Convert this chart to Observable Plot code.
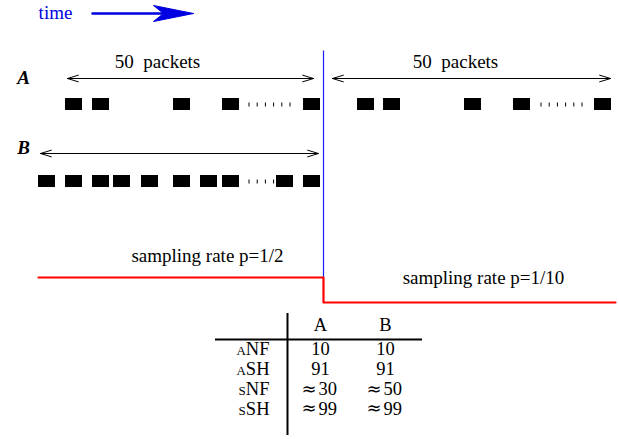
<!DOCTYPE html>
<html><head><meta charset="utf-8">
<script src="https://cdn.jsdelivr.net/npm/d3@7"></script>
<script src="https://cdn.jsdelivr.net/npm/@observablehq/plot@0.6"></script>
<style>body{margin:0;background:#fff}</style>
</head><body><div id="chart"></div>
<script>
// ---- data (diagram coordinates, in "time" units along x) ----
const timeLabel = "time";
const flowNames = ["A", "B"];
const windowLabel = "50  packets";
const packetsA = [65, 92, 173, 222, 303, 357, 383, 464, 513, 594];
const packetsB = [38, 65, 92, 113, 141, 173, 200, 222, 276, 303];
const packetLen = 17;
const gapsA = [[244, 294], [536, 586]];
const gapsB = [[244, 274]];
const windowsA = [[67, 313], [332, 610]];
const windowsB = [[40, 318]];
const switchTime = 323;
const rateLabels = ["sampling rate p=1/2", "sampling rate p=1/10"];
const rateLevels = [277, 302];
const rateSpan = [38, 615];
const tableCols = ["A", "B"];
const tableRows = ["aNF", "aSH", "sNF", "sSH"];
const valuesA = ["10", "91", "≈30", "≈99"];
const valuesB = ["10", "91", "≈50", "≈99"];

// ---- layout rows ----
const yA = 104, yB = 181, pktH = 12;
const yArrowA = 78, yArrowB = 153;

const packets = [
  ...packetsA.map(t => ({t, y: yA})),
  ...packetsB.map(t => ({t, y: yB}))
];
const gaps = [
  ...gapsA.map(([a, b]) => ({a, b, y: yA})),
  ...gapsB.map(([a, b]) => ({a, b, y: yB}))
];
const spans = [
  ...windowsA.map(([a, b]) => ({a, b, y: yArrowA})),
  ...windowsB.map(([a, b]) => ({a, b, y: yArrowB}))
];
const arrowHalves = spans.flatMap(s => {
  const m = (s.a + s.b) / 2;
  return [{x1: m, x2: s.a, y: s.y}, {x1: m, x2: s.b, y: s.y}];
});
const ratePath = [
  {x: rateSpan[0], y: rateLevels[0]},
  {x: switchTime, y: rateLevels[0]},
  {x: switchTime, y: rateLevels[1]},
  {x: rateSpan[1], y: rateLevels[1]}
];
const timeHead = [
  {x: 193, y: 13}, {x: 153, y: 5}, {x: 163, y: 13}, {x: 153, y: 21}, {x: 193, y: 13}
];
const colX = [320, 385];
const rowY0 = 349, rowStep = 19.7;
const cells = tableRows.flatMap((r, i) => [valuesA[i], valuesB[i]].map((v, j) => {
  const approx = v.startsWith("≈");
  return {x: colX[j], y: rowY0 + i * rowStep, approx, num: approx ? v.slice(1) : v};
}));

const serif = "'Liberation Serif', 'Times New Roman', serif";
const plot = Plot.plot({
  width: 619, height: 439, margin: 0,
  x: {domain: [0, 619], range: [0, 619], axis: null},
  y: {domain: [0, 439], range: [0, 439], axis: null},
  style: {fontFamily: serif, background: "white", overflow: "visible"},
  marks: [
    // time arrow
    Plot.text([timeLabel], {x: 55, y: 12, text: d => d, fill: "#0000e0", fontSize: 19, fontFamily: serif}),
    Plot.line([{x: 92, y: 13}, {x: 165, y: 13}], {x: "x", y: "y", stroke: "#0000e0", strokeWidth: 2.5}),
    Plot.line(timeHead, {x: "x", y: "y", fill: "#0000e0", stroke: "#0000e0", strokeWidth: 1}),
    // flow labels
    Plot.text(flowNames, {x: 23, y: [77, 147], text: d => d, fontSize: 19, fontWeight: "bold", fontStyle: "italic", fontFamily: serif}),
    // window labels
    Plot.text([windowLabel, windowLabel], {x: [157, 455], y: [61, 61], text: d => d, fontSize: 19, fontFamily: serif}),
    // double arrows
    Plot.arrow(arrowHalves, {x1: "x1", x2: "x2", y1: "y", y2: "y", stroke: "black", strokeWidth: 1, headLength: 17, headAngle: 34, insetEnd: 0}),
    // packets
    Plot.rect(packets, {x1: "t", x2: d => d.t + packetLen, y1: d => d.y - pktH / 2, y2: d => d.y + pktH / 2, fill: "black"}),
    // dotted gaps
    Plot.link(gaps, {x1: d => d.a + 4, x2: "b", y1: "y", y2: "y", stroke: "black", strokeWidth: 4, strokeDasharray: "1,7.2"}),
    // switch line
    Plot.link([switchTime], {x1: d => d, x2: d => d, y1: 50, y2: rateLevels[0], stroke: "#1a1aff", strokeWidth: 1.2}),
    // sampling rate
    Plot.line(ratePath, {x: "x", y: "y", stroke: "#ff0000", strokeWidth: 2.2}),
    Plot.text(rateLabels, {x: [207, 483], y: [255, 277], text: d => d, fontSize: 19, fontFamily: serif}),
    // table
    Plot.ruleX([287], {y1: 313, y2: 435, stroke: "black", strokeWidth: 2}),
    Plot.ruleY([339], {x1: 215, x2: 422, stroke: "black", strokeWidth: 2}),
    Plot.text(tableCols, {x: colX, y: 325, text: d => d, fontSize: 18.5, fontFamily: serif}),
    Plot.text(tableRows, {x: 269, y: (d, i) => rowY0 + i * rowStep, text: d => d, textAnchor: "end", fontSize: 18.5, fontVariant: "small-caps", fontFamily: serif}),
    Plot.text(cells.filter(d => !d.approx), {x: "x", y: "y", text: "num", fontSize: 18.5, fontFamily: serif}),
    Plot.text(cells.filter(d => d.approx), {x: d => d.x - 2, y: "y", text: "num", textAnchor: "start", fontSize: 18.5, fontFamily: serif}),
    Plot.text(cells.filter(d => d.approx), {x: d => d.x - 4, y: "y", text: () => "≈", textAnchor: "end", fontSize: 18, fontFamily: "'DejaVu Serif', serif"})
  ]
});
document.getElementById("chart").appendChild(plot);
</script>
</body></html>
